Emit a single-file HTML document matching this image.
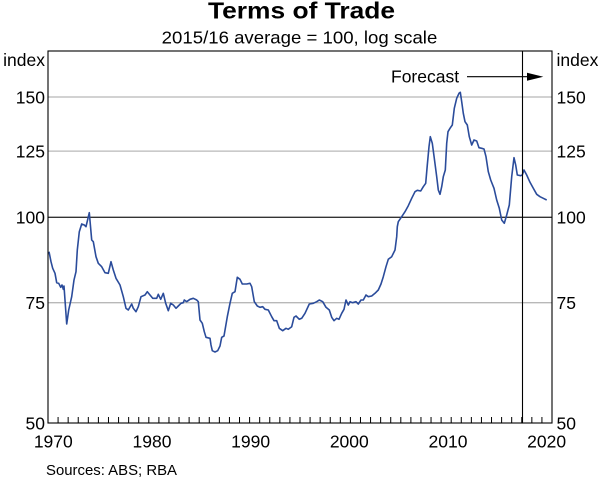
<!DOCTYPE html>
<html><head><meta charset="utf-8"><style>
html,body{margin:0;padding:0;background:#fff;}
svg{display:block;}
text{font-family:"Liberation Sans",Arial,sans-serif;fill:#000;}
</style></head><body>
<svg width="600" height="480" viewBox="0 0 600 480" xmlns="http://www.w3.org/2000/svg">
<rect width="600" height="480" fill="#fff"/>
<!-- titles -->
<text x="208" y="18.5" font-size="23" font-weight="bold" textLength="187" lengthAdjust="spacingAndGlyphs">Terms of Trade</text>
<text x="161.7" y="43.5" font-size="17.5" textLength="275.6" lengthAdjust="spacingAndGlyphs">2015/16 average = 100, log scale</text>
<!-- gridlines -->
<g stroke="#b8b8b8" stroke-width="1.3">
<line x1="48" y1="97" x2="552" y2="97"/>
<line x1="48" y1="151.1" x2="552" y2="151.1"/>
<line x1="48" y1="302.7" x2="552" y2="302.7"/>
</g>
<line x1="48" y1="217.3" x2="552" y2="217.3" stroke="#333" stroke-width="1.3"/>
<!-- series -->
<polyline fill="none" stroke="#2b4c9b" stroke-width="1.6" stroke-linejoin="round" points="49,251.7 51,261.7 52.7,268.3 55,273.3 56.7,282.7 58.7,283.3 60.7,287.3 62,285 63.3,289.3 64,286 66.7,324 68.7,310 71.7,296.7 74,280 76,271.7 77.3,250 79.3,231.7 81.7,224 84.3,225 86,226.7 89.3,212.7 91.7,240 93.3,241.7 96,256.7 98.3,263.3 101.7,266.7 105,272.7 108.3,273.3 111,261.7 113.3,270 116,278.3 120,285 123.3,296.7 126,308.3 128.3,310 131.7,304 133.3,308.3 136,311.7 138.3,306.7 141,296.7 145,295 147.3,291.7 150,295 152.7,298.3 156.7,298.3 158.3,294.3 160.7,299.3 163.3,293.3 165.7,303.3 168.3,310.7 170.7,303.3 173.3,305 176,308.3 178.3,306 181,303.3 183.3,302.7 184.3,300 186.7,301.7 190,299.3 193.3,298.3 196.7,300 198.3,301.7 200,320 202.3,323.3 204.3,331.7 206,337.3 210,338.3 211,345 212.3,350.7 215,352 217.7,350.7 220,346 221.7,337.3 224,336 227.3,316.7 230,303.3 232.3,293.3 235,291.7 237.3,277.3 240,279.3 242.3,284 246.7,284 250,283.3 251.7,286.7 254.3,301.7 257.3,306 260,307.3 262.7,306.7 265,309.3 268.3,310 271.7,316.7 274,320.7 276.7,320.7 279.3,328.3 282.7,330.7 286,328.3 288.3,329.3 291.7,326.7 294,317.3 296,316 299.3,319.3 301.7,318.3 305,313.3 309.3,304 313.3,303.3 316.7,301.7 319.3,300 322.7,301.7 326,307.3 329.3,310 331.7,317.3 334,320.7 336.7,318.3 339,319.3 341.7,313.3 344,309.3 346,300 348.3,305 350,301.7 352.7,302.7 356,301.7 358.3,304 361,300 363.3,300 366,295 368.3,296.7 371.7,296 375,293.3 378.3,290 381,284 383.3,276.7 386,266.7 388.3,259.3 391.7,256.7 395,250 396.7,236.7 397.3,226.7 398.3,221.7 401.7,216.7 405,211.7 408.3,205.7 411.7,198.3 415,191.7 417.3,190.3 420.7,191 423.3,186.7 425.7,183.3 427.3,165 429,146.7 430.3,136.7 432.3,143.3 434.3,158.3 436.7,176.7 438.3,190 440,194.3 441.7,186.7 443.3,176.7 445.3,170 446.7,143.3 448,131.7 450,128.3 452.3,125 454.3,108.3 456.7,98.3 459,93.3 460.3,92.3 461.7,101.7 463.3,113.3 465,121.7 467.3,125 469.3,136.7 471.7,145 474,140 476.7,141 479,147.7 481.7,148.3 484,149 486,156.7 488.3,171.7 490.7,180 494,188.3 496.7,200 499.3,208.3 501.7,220 504.3,223.3 506.7,215 509.3,205 511.7,176.7 514,157.7 515.7,165 517.3,175 520.7,175.7 522.3,175 524,170 526.7,175 530,182.3 533.3,188.3 536.7,194.3 540,196.7 543.3,198.3 546.7,200"/>
<!-- forecast line -->
<line x1="522.5" y1="51" x2="522.5" y2="423" stroke="#000" stroke-width="1.1"/>
<!-- frame -->
<rect x="48" y="51" width="504" height="372" fill="none" stroke="#000" stroke-width="1.1"/>
<!-- ticks -->
<g stroke="#000" stroke-width="1">
<line x1="58.08" y1="417" x2="58.08" y2="423"/><line x1="68.16" y1="417" x2="68.16" y2="423"/><line x1="78.24" y1="417" x2="78.24" y2="423"/><line x1="88.32" y1="417" x2="88.32" y2="423"/><line x1="98.4" y1="417" x2="98.4" y2="423"/><line x1="108.48" y1="417" x2="108.48" y2="423"/><line x1="118.56" y1="417" x2="118.56" y2="423"/><line x1="128.64" y1="417" x2="128.64" y2="423"/><line x1="138.72" y1="417" x2="138.72" y2="423"/><line x1="148.8" y1="417" x2="148.8" y2="423"/>
<line x1="158.88" y1="417" x2="158.88" y2="423"/><line x1="168.96" y1="417" x2="168.96" y2="423"/><line x1="179.04" y1="417" x2="179.04" y2="423"/><line x1="189.12" y1="417" x2="189.12" y2="423"/><line x1="199.2" y1="417" x2="199.2" y2="423"/><line x1="209.28" y1="417" x2="209.28" y2="423"/><line x1="219.36" y1="417" x2="219.36" y2="423"/><line x1="229.44" y1="417" x2="229.44" y2="423"/><line x1="239.52" y1="417" x2="239.52" y2="423"/><line x1="249.6" y1="417" x2="249.6" y2="423"/>
<line x1="259.68" y1="417" x2="259.68" y2="423"/><line x1="269.76" y1="417" x2="269.76" y2="423"/><line x1="279.84" y1="417" x2="279.84" y2="423"/><line x1="289.92" y1="417" x2="289.92" y2="423"/><line x1="300" y1="417" x2="300" y2="423"/><line x1="310.08" y1="417" x2="310.08" y2="423"/><line x1="320.16" y1="417" x2="320.16" y2="423"/><line x1="330.24" y1="417" x2="330.24" y2="423"/><line x1="340.32" y1="417" x2="340.32" y2="423"/><line x1="350.4" y1="417" x2="350.4" y2="423"/>
<line x1="360.48" y1="417" x2="360.48" y2="423"/><line x1="370.56" y1="417" x2="370.56" y2="423"/><line x1="380.64" y1="417" x2="380.64" y2="423"/><line x1="390.72" y1="417" x2="390.72" y2="423"/><line x1="400.8" y1="417" x2="400.8" y2="423"/><line x1="410.88" y1="417" x2="410.88" y2="423"/><line x1="420.96" y1="417" x2="420.96" y2="423"/><line x1="431.04" y1="417" x2="431.04" y2="423"/><line x1="441.12" y1="417" x2="441.12" y2="423"/><line x1="451.2" y1="417" x2="451.2" y2="423"/>
<line x1="461.28" y1="417" x2="461.28" y2="423"/><line x1="471.36" y1="417" x2="471.36" y2="423"/><line x1="481.44" y1="417" x2="481.44" y2="423"/><line x1="491.52" y1="417" x2="491.52" y2="423"/><line x1="501.6" y1="417" x2="501.6" y2="423"/><line x1="511.68" y1="417" x2="511.68" y2="423"/><line x1="521.76" y1="417" x2="521.76" y2="423"/><line x1="531.84" y1="417" x2="531.84" y2="423"/><line x1="541.92" y1="417" x2="541.92" y2="423"/>
</g>
<!-- y labels left -->
<g font-size="17.5" text-anchor="end">
<text x="45" y="66">index</text>
<text x="45" y="103.3">150</text>
<text x="45" y="157.4">125</text>
<text x="45" y="223.6">100</text>
<text x="45" y="309">75</text>
<text x="45" y="429.3">50</text>
</g>
<!-- y labels right -->
<g font-size="17.5" text-anchor="start">
<text x="556.5" y="66">index</text>
<text x="556.5" y="103.3">150</text>
<text x="556.5" y="157.4">125</text>
<text x="556.5" y="223.6">100</text>
<text x="556.5" y="309">75</text>
<text x="556.5" y="429.3">50</text>
</g>
<!-- x labels -->
<g font-size="17.5" text-anchor="middle">
<text x="53.3" y="447.3">1970</text>
<text x="152" y="447.3">1980</text>
<text x="250.6" y="447.3">1990</text>
<text x="349.3" y="447.3">2000</text>
<text x="448" y="447.3">2010</text>
<text x="546.6" y="447.3">2020</text>
</g>
<!-- forecast annotation -->
<text x="391" y="82.5" font-size="17.5">Forecast</text>
<line x1="467" y1="76.7" x2="530" y2="76.7" stroke="#000" stroke-width="1.2"/>
<polygon points="527,72.7 543.3,76.7 527,80.7" fill="#000"/>
<!-- sources -->
<text x="46" y="475" font-size="14.5" textLength="131" lengthAdjust="spacingAndGlyphs">Sources: ABS; RBA</text>
</svg>
</body></html>
